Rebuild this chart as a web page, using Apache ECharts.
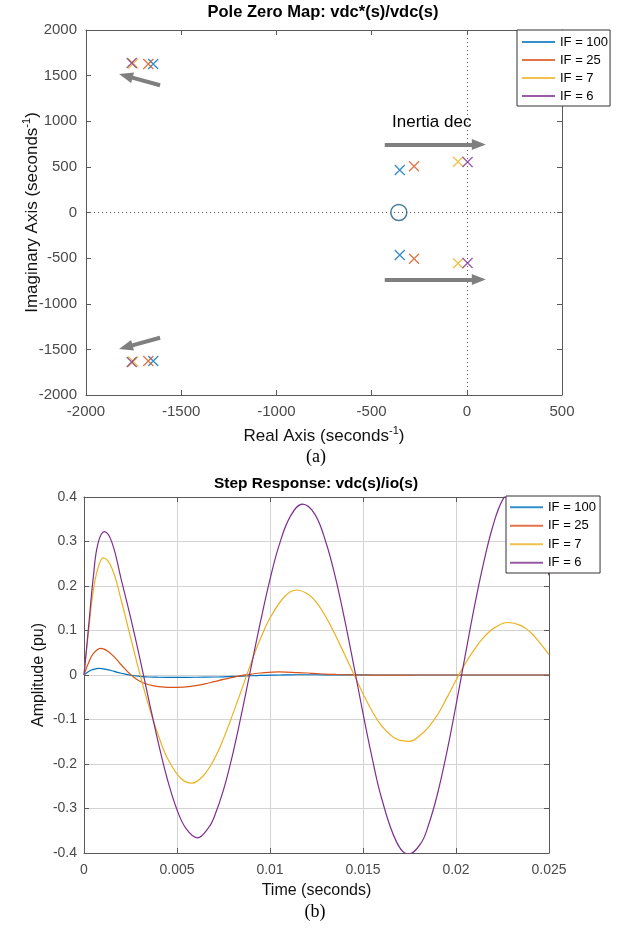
<!DOCTYPE html>
<html><head><meta charset="utf-8">
<script src="https://cdn.jsdelivr.net/npm/echarts@6.0.0/dist/echarts.min.js"></script>
<style>html,body{margin:0;padding:0;background:#fff}#c{width:628px;height:929px}</style>
</head><body><div id="c"></div>
<script>
// ---------- data ----------
const seriesNames = ['IF = 100', 'IF = 25', 'IF = 7', 'IF = 6'];

// Pole-zero map (real, imaginary)
const polesIF100 = [[-1647, 1628], [-1647, -1628], [-352, 465], [-352, -465]];
const polesIF25  = [[-1673, 1628], [-1673, -1628], [-277, 507], [-277, -507]];
const polesIF7   = [[-1752, 1633], [-1752, -1633], [-46, 557], [-46, -557]];
const polesIF6   = [[-1760, 1638], [-1760, -1638], [4, 553], [4, -553]];
const zeroPoint  = [[-357, 0]];

// annotation arrows (start, end) in data units
const arrowsPZ = [
  [[-1611, 1395], [-1791, 1497]],
  [[-1611, -1373], [-1791, -1475]],
  [[-431, 745], [63, 745]],
  [[-431, -735], [63, -735]]
];
const annoText = ['Inertia dec'];
const annoPos = [[-184, 991]];

// Step response: time in milliseconds, amplitude in pu
const tIF100 = [0,0.25,0.5,0.8,1.25,1.5,1.75,2.0,2.5,3.0,3.5,4.0,5.0,6.0,7.0,7.5,8.0,8.5,9.0,9.5,10.0,10.5,11.0,12.0,13.0,14.0,15.0,16.0,25.0];
const stepIF100 = [0,0.008,0.0125,0.0148,0.012,0.0095,0.0065,0.004,-0.0005,-0.003,-0.0045,-0.005,-0.0052,-0.005,-0.0045,-0.004,-0.0033,-0.0025,-0.0017,-0.001,-0.0004,0,0.0003,0.0006,0.0005,0.0003,0.0001,0,0];

const tIF25 = [0,0.25,0.5,0.9,1.3,1.75,2.0,2.5,3.0,3.5,4.0,5.0,6.0,6.5,7.0,7.5,8.0,8.5,9.0,9.5,10.5,11.5,12.0,12.5,13.0,13.5,14.0,15.0,16.0,17.0,18.0,25.0];
const stepIF25 = [0,0.028,0.048,0.060,0.053,0.035,0.023,0.001,-0.014,-0.022,-0.026,-0.028,-0.024,-0.020,-0.015,-0.010,-0.0055,-0.001,0.002,0.0045,0.0068,0.0055,0.0045,0.0032,0.002,0.0012,0.0006,0,-0.0003,-0.0002,0,0];

const tIF7 = [0,0.25,0.5,0.75,1.04,1.5,2.0,2.5,3.0,3.5,4.0,4.5,5.2,5.8,6.4,7.0,7.5,8.0,8.5,9.0,9.5,10.0,10.8,11.43,12.1,12.5,13.0,13.5,14.0,14.5,15.0,15.5,16.0,16.8,17.5,18.2,18.5,19.0,19.5,20.0,20.5,21.0,21.5,22.1,22.8,23.5,24.0,24.5,25.0];
const stepIF7 = [0,0.10,0.19,0.24,0.263,0.24,0.168,0.085,0.003,-0.072,-0.136,-0.188,-0.232,-0.243,-0.227,-0.189,-0.143,-0.088,-0.030,0.029,0.083,0.128,0.177,0.191,0.180,0.163,0.131,0.091,0.047,0.002,-0.042,-0.082,-0.114,-0.144,-0.149,-0.131,-0.118,-0.090,-0.052,-0.012,0.026,0.058,0.085,0.107,0.118,0.111,0.096,0.073,0.046];

const tIF6 = [0,0.25,0.5,0.75,1.1,1.5,2.0,2.5,3.0,3.5,4.0,4.5,5.0,5.5,6.1,6.7,7.0,7.5,8.0,8.5,9.0,9.5,10.0,10.5,11.1,11.75,12.4,13.0,13.5,14.0,14.5,15.0,15.5,16.0,16.8,17.45,18.1,18.5,19.0,19.5,20.0,20.5,21.0,21.5,22.0,22.5,23.1,23.7,24.0,24.5,25.0];
const stepIF6 = [0,0.11,0.22,0.295,0.322,0.298,0.215,0.13,0.038,-0.059,-0.153,-0.237,-0.303,-0.346,-0.366,-0.343,-0.319,-0.258,-0.177,-0.081,0.021,0.122,0.215,0.293,0.357,0.384,0.362,0.299,0.222,0.127,0.022,-0.086,-0.188,-0.277,-0.375,-0.403,-0.379,-0.340,-0.268,-0.175,-0.068,0.045,0.156,0.255,0.337,0.393,0.421,0.404,0.379,0.313,0.224];

// ---------- styling ----------
const COLORS = ['#0072BD', '#D95319', '#EDB120', '#7E2F8E'];
const FONT = '"Liberation Sans", Arial, sans-serif';
const SERIF = '"Liberation Serif", "Times New Roman", serif';
const AXIS_C = '#5a5a5a';
const LABEL_C = '#4a4a4a';
const XPATH = 'path://M0,0L10,10M10,0L0,10';

function zipMs(ts, ys) { return ts.map((t, i) => [t / 1000, ys[i]]); }

function mainAxis(grid, pos, min, max, interval, fmt, margin, grid2, fs) {
  return {
    type: 'value', gridIndex: grid, position: pos, min: min, max: max, interval: interval,
    axisLine: { show: true, onZero: false, lineStyle: { color: AXIS_C, width: 1 } },
    axisTick: { show: true, inside: true, length: 5, lineStyle: { color: AXIS_C, width: 1 } },
    axisLabel: { show: true, color: LABEL_C, fontSize: fs, fontFamily: FONT, margin: margin, formatter: fmt },
    splitLine: { show: grid2, lineStyle: { color: '#d3d3d3', width: 1 } },
    nameMoveOverlap: false
  };
}
function boxAxis(grid, pos, min, max, interval) {
  return {
    type: 'value', gridIndex: grid, position: pos, min: min, max: max, interval: interval,
    axisLine: { show: true, onZero: false, lineStyle: { color: AXIS_C, width: 1 } },
    axisTick: { show: true, inside: true, length: 5, lineStyle: { color: AXIS_C, width: 1 } },
    axisLabel: { show: false }, splitLine: { show: false }
  };
}
const nameRich = {
  a: { fontSize: 17, color: '#111', fontFamily: FONT, lineHeight: 23 },
  s: { fontSize: 11, color: '#111', fontFamily: FONT, verticalAlign: 'top', lineHeight: 12 }
};

const xPZ = mainAxis(0, 'bottom', -2000, 500, 500, v => String(v), 9, false, 15);
xPZ.name = '{a|Real Axis (seconds}{s|-1}{a|)}';
xPZ.nameLocation = 'middle'; xPZ.nameGap = 30; xPZ.nameTextStyle = { rich: nameRich };
const yPZ = mainAxis(0, 'left', -2000, 2000, 500, v => String(v), 9, false, 15);
yPZ.name = '{a|Imaginary Axis (seconds}{s|-1}{a|)}';
yPZ.nameLocation = 'middle'; yPZ.nameGap = 42; yPZ.nameTextStyle = { rich: nameRich };

const xSR = mainAxis(1, 'bottom', 0, 0.025, 0.005, v => String(Math.round(v * 1000) / 1000), 10, true, 14);
xSR.name = 'Time (seconds)'; xSR.nameLocation = 'middle'; xSR.nameGap = 30;
xSR.nameTextStyle = { fontSize: 16, color: '#111', fontFamily: FONT };
const ySR = mainAxis(1, 'left', -0.4, 0.4, 0.1, v => String(Math.round(v * 10) / 10), 7, true, 14);
ySR.name = 'Amplitude (pu)'; ySR.nameLocation = 'middle'; ySR.nameGap = 37;
ySR.nameTextStyle = { fontSize: 16, color: '#111', fontFamily: FONT };

const poleSets = [polesIF100, polesIF25, polesIF7, polesIF6];
const stepSets = [[tIF100, stepIF100], [tIF25, stepIF25], [tIF7, stepIF7], [tIF6, stepIF6]];

const series = [];
series.push({
  type: 'scatter', xAxisIndex: 0, yAxisIndex: 0, data: [], silent: true, z: 1,
  markLine: {
    silent: true, animation: false, symbol: ['none', 'none'], label: { show: false },
    emphasis: { disabled: true },
    data: [
      { xAxis: 0, lineStyle: { type: [1, 3], color: '#555', width: 1 } },
      { yAxis: 0, lineStyle: { type: [1, 3], color: '#555', width: 1 } }
    ].concat(arrowsPZ.map(a => [
      { coord: a[0], symbol: 'none', lineStyle: { type: 'solid', color: '#7f7f7f', width: 4 } },
      { coord: a[1], symbol: 'triangle', symbolSize: [11, 14] }
    ]))
  }
});
poleSets.forEach((p, i) => series.push({
  type: 'scatter', name: seriesNames[i], xAxisIndex: 0, yAxisIndex: 0, data: p,
  symbol: XPATH, symbolSize: 10, z: 3,
  itemStyle: { color: COLORS[i], borderColor: COLORS[i], borderWidth: 1.3 },
  emphasis: { disabled: true }
}));
series.push({
  type: 'scatter', name: 'zero', xAxisIndex: 0, yAxisIndex: 0, data: zeroPoint,
  symbol: 'circle', symbolSize: 16, z: 3,
  itemStyle: { color: 'rgba(0,0,0,0)', borderColor: '#1d5a82', borderWidth: 1.5 },
  emphasis: { disabled: true }
});
series.push({
  type: 'scatter', name: 'anno', xAxisIndex: 0, yAxisIndex: 0, data: annoPos,
  symbolSize: 2, itemStyle: { color: 'rgba(0,0,0,0)' }, silent: true, z: 4,
  label: { show: true, position: 'inside', formatter: p => annoText[p.dataIndex],
    color: '#000', fontSize: 17, fontFamily: FONT, opacity: 1 }
});
stepSets.forEach((s, i) => series.push({
  type: 'line', name: seriesNames[i], xAxisIndex: 2, yAxisIndex: 2,
  data: zipMs(s[0], s[1]), showSymbol: false, smooth: 0.4, clip: true,
  lineStyle: { color: COLORS[i], width: 1.2 }, itemStyle: { color: COLORS[i] },
  emphasis: { disabled: true }, z: 2
}));

function legendAt(left, top, lh, pad) {
  return {
    orient: 'vertical', left: left, top: top, itemWidth: 33, itemHeight: 2, itemGap: 0,
    icon: 'rect', padding: pad, backgroundColor: '#fff', borderColor: '#333', borderWidth: 1,
    borderRadius: 0, selectedMode: false,
    textStyle: { fontSize: 13, color: '#000', fontFamily: FONT, lineHeight: lh },
    itemStyle: { borderWidth: 0 },
    data: seriesNames.map((n, i) => ({ name: n, icon: 'rect', itemStyle: { color: COLORS[i], borderWidth: 0 } }))
  };
}

const option = {
  animation: false,
  backgroundColor: '#fff',
  textStyle: { fontFamily: FONT },
  grid: [
    { left: 86, top: 30, width: 476, height: 365, outerBoundsMode: 'none', containLabel: false },
    { left: 84, top: 497, width: 465, height: 356, outerBoundsMode: 'none', containLabel: false }
  ],
  xAxis: [xPZ, boxAxis(0, 'top', -2000, 500, 500), xSR, boxAxis(1, 'top', 0, 0.025, 0.005)],
  yAxis: [yPZ, boxAxis(0, 'right', -2000, 2000, 500), ySR, boxAxis(1, 'right', -0.4, 0.4, 0.1)],
  legend: [legendAt(517, 30, 18, [3, 2, 1, 5]), legendAt(506, 496, 18.5, [2, 4, 1, 4])],
  graphic: [
    { type: 'text', x: 323, y: 12, style: { text: 'Pole Zero Map: vdc*(s)/vdc(s)', font: 'bold 16.5px ' + FONT, fill: '#000', align: 'center', verticalAlign: 'middle', textAlign: 'center', textVerticalAlign: 'middle' } },
    { type: 'text', x: 316, y: 484, style: { text: 'Step Response: vdc(s)/io(s)', font: 'bold 15.5px ' + FONT, fill: '#000', align: 'center', verticalAlign: 'middle', textAlign: 'center', textVerticalAlign: 'middle' } },
    { type: 'text', x: 316, y: 457, style: { text: '(a)', font: '18px ' + SERIF, fill: '#000', align: 'center', verticalAlign: 'middle', textAlign: 'center', textVerticalAlign: 'middle' } },
    { type: 'text', x: 315, y: 912, style: { text: '(b)', font: '18px ' + SERIF, fill: '#000', align: 'center', verticalAlign: 'middle', textAlign: 'center', textVerticalAlign: 'middle' } }
  ],
  series: series
};
const chart = echarts.init(document.getElementById('c'), null, { renderer: 'canvas' });
chart.setOption(option);
</script></body></html>
